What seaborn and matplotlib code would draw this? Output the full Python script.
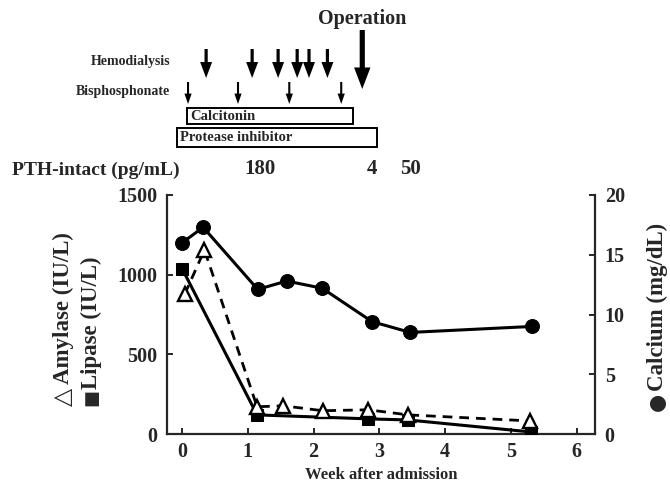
import matplotlib
matplotlib.use("Agg")
import matplotlib.pyplot as plt
import matplotlib.transforms as mtransforms
from matplotlib.patches import Rectangle, ArrowStyle
import seaborn as sns
import pandas as pd

# ---------------- data ----------------
weeks_calcium = [0.0, 0.32, 1.15, 1.59, 2.13, 2.89, 3.47, 5.32]
calcium = [16.0, 17.3, 12.1, 12.8, 12.2, 9.4, 8.5, 9.0]

weeks_amylase = [0.04, 0.34, 1.14, 1.54, 2.14, 2.83, 3.44, 5.29]
amylase = [878, 1155, 171, 177, 146, 152, 120, 82]

weeks_lipase = [0.0, 1.14, 2.83, 3.44, 5.30]
lipase = [1038, 120, 95, 88, 13]

hemodialysis_weeks = [0.365, 1.065, 1.46, 1.75, 1.93, 2.21]
bisphosphonate_weeks = [0.09, 0.85, 1.63, 2.42]
operation_week = 2.74
calcitonin_span = [0.076, 2.60]
protease_span = [-0.076, 2.97]
pth_weeks = [1.19, 2.89, 3.47]
pth_labels = ["180", "4", "50"]

x_ticks = [0, 1, 2, 3, 4, 5, 6]
left_ticks = [0, 500, 1000, 1500]
right_ticks = [0, 5, 10, 15, 20]

# ---------------- style ----------------
sns.set_theme(style="ticks")
plt.rcParams["font.family"] = ["Liberation Serif", "DejaVu Serif"]
plt.rcParams["font.weight"] = "bold"
plt.rcParams["axes.linewidth"] = 1.6

W, H = 670, 482
fig = plt.figure(figsize=(W / 100, H / 100), dpi=100)
ax = fig.add_axes([167 / W, 1 - 434 / H, (595 - 167) / W, (434 - 195) / H])
ax2 = ax.twinx()

df_amy = pd.DataFrame({"week": weeks_amylase, "value": amylase})
df_lip = pd.DataFrame({"week": weeks_lipase, "value": lipase})
df_ca = pd.DataFrame({"week": weeks_calcium, "value": calcium})

sns.lineplot(data=df_lip, x="week", y="value", ax=ax, color="black", lw=2.2,
             marker="s", markersize=9, markeredgecolor="black",
             markerfacecolor="black", sort=False, zorder=3)
sns.lineplot(data=df_amy, x="week", y="value", ax=ax, color="black", lw=2.0,
             linestyle=(0, (3.5, 2.5)), marker="^", markersize=10.5,
             markerfacecolor="white", markeredgecolor="black",
             markeredgewidth=1.7, sort=False, zorder=4)
sns.lineplot(data=df_ca, x="week", y="value", ax=ax2, color="black", lw=2.2,
             marker="o", markersize=10, markeredgecolor="black",
             markerfacecolor="black", sort=False, zorder=3)

ax.set_xlim(-0.23, 6.28)
ax.set_ylim(0, 1500)
ax2.set_ylim(0, 20)
ax.set_xticks(x_ticks)
ax.set_yticks(left_ticks)
ax2.set_yticks(right_ticks)
ax.set_xlabel("")
ax.set_ylabel("")
ax2.set_ylabel("")

for a in (ax, ax2):
    a.spines["top"].set_visible(False)
    a.tick_params(direction="in", length=4, width=1.4, labelsize=14.5)
ax.spines["right"].set_visible(False)
ax2.spines["left"].set_visible(False)
ax2.spines["bottom"].set_visible(False)
ax.tick_params(axis="x", pad=6)
ax.tick_params(axis="y", pad=7)
ax2.tick_params(axis="y", pad=7)
for lab in ax.get_xticklabels() + ax.get_yticklabels() + ax2.get_yticklabels():
    lab.set_fontweight("bold")

fig.text(381 / W, 1 - 475 / H, "Week after admission", ha="center",
         va="center", fontsize=12, fontweight="bold")

# axis titles: symbol + words
fig.text(63 / W, 1 - 406 / H, "\u25b3", rotation=90, ha="center",
         va="bottom", fontsize=17, family=["DejaVu Sans"], fontweight="bold")
fig.text(63 / W, 1 - 384 / H, "Amylase (IU/L)", rotation=90,
         ha="center", va="bottom", fontsize=16.5, fontweight="bold")
fig.text(91 / W, 1 - 406 / H, "\u25a0", rotation=90, ha="center",
         va="bottom", fontsize=13, family=["DejaVu Sans"])
fig.text(91 / W, 1 - 389 / H, "Lipase (IU/L)", rotation=90,
         ha="center", va="bottom", fontsize=16.5, fontweight="bold")
fig.text(657 / W, 1 - 411 / H, "\u25cf", rotation=90, ha="center",
         va="bottom", fontsize=15, family=["DejaVu Sans"])
fig.text(657 / W, 1 - 391 / H, "Calcium (mg/dL)", rotation=90,
         ha="center", va="bottom", fontsize=16.5, fontweight="bold")

# ---------------- treatment annotations ----------------
trans = mtransforms.blended_transform_factory(ax.transData, fig.transFigure)

def fy(px):
    return 1 - px / H

def down_arrow(w, top, tip, hl, hw, tw):
    style = ArrowStyle("simple", head_length=hl, head_width=hw, tail_width=tw)
    ax.annotate("", xy=(w, fy(tip)), xytext=(w, fy(top)), xycoords=trans,
                textcoords=trans, annotation_clip=False,
                arrowprops=dict(arrowstyle=style, mutation_scale=1, lw=0,
                                fc="black", ec="black",
                                shrinkA=0, shrinkB=0))

for w in hemodialysis_weeks:
    down_arrow(w, 49, 78, 11.5, 8.6, 2.3)
for w in bisphosphonate_weeks:
    down_arrow(w, 82, 104, 7.5, 5.2, 1.5)
down_arrow(operation_week, 30, 89, 15.5, 11.8, 3.7)

ax.text(operation_week, fy(19), "Operation", transform=trans, ha="center",
        va="center", fontsize=14.5, fontweight="bold")

fig.text(170 / W, fy(61), "Hemodialysis", ha="right", va="center",
         fontsize=10, fontweight="bold")
fig.text(170 / W, fy(92), "Bisphosphonate", ha="right", va="center",
         fontsize=10, fontweight="bold")

rect1 = Rectangle((calcitonin_span[0], fy(124)),
                  calcitonin_span[1] - calcitonin_span[0], fy(108) - fy(124),
                  transform=trans, fill=False, lw=1.4, ec="black",
                  clip_on=False)
ax.add_patch(rect1)
ax.text(calcitonin_span[0] + 0.05, fy(116), "Calcitonin", transform=trans,
        ha="left", va="center", fontsize=10.5, fontweight="bold")

rect2 = Rectangle((protease_span[0], fy(147)),
                  protease_span[1] - protease_span[0], fy(128) - fy(147),
                  transform=trans, fill=False, lw=1.4, ec="black",
                  clip_on=False)
ax.add_patch(rect2)
ax.text(protease_span[0] + 0.05, fy(137.5), "Protease inhibitor",
        transform=trans, ha="left", va="center", fontsize=10.5,
        fontweight="bold")

fig.text(12 / W, fy(170), "PTH-intact (pg/mL)", ha="left", va="center",
         fontsize=14, fontweight="bold")
for w, s in zip(pth_weeks, pth_labels):
    ax.text(w, fy(169), s, transform=trans, ha="center", va="center",
            fontsize=15, fontweight="bold")

fig.savefig("out.png", dpi=100)
